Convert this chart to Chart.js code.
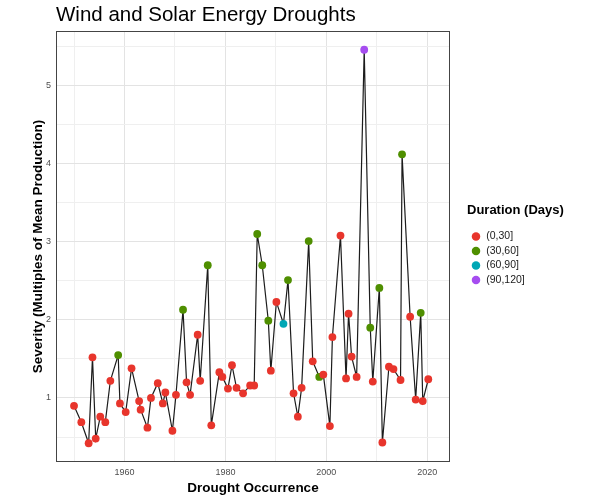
<!DOCTYPE html>
<html>
<head>
<meta charset="utf-8">
<script src="https://cdn.jsdelivr.net/npm/chart.js@4.4.1/dist/chart.umd.min.js"></script>
<style>
  html, body { margin: 0; padding: 0; background: #fff; }
  #wrap { width: 600px; height: 500px; }
</style>
</head>
<body>
<div id="wrap"><canvas id="droughtChart"></canvas></div>
<script>
// drought events
const years = [
    1950.0, 1951.45, 1952.9, 1953.66, 1954.3, 1955.2, 1956.2, 1957.2, 1958.75, 1959.1,
    1960.24, 1961.4, 1962.9, 1963.2, 1964.55, 1965.25, 1966.6, 1967.6, 1968.1, 1969.5,
    1970.2, 1971.6, 1972.3, 1973.0, 1974.5, 1975.0, 1976.5, 1977.2, 1978.8, 1979.4,
    1980.5, 1981.3, 1982.2, 1983.5, 1984.9, 1985.7, 1986.3, 1987.3, 1988.5, 1989.0,
    1990.1, 1991.5, 1992.4, 1993.5, 1994.35, 1995.1, 1996.5, 1997.3, 1998.6, 1999.4,
    2000.7, 2001.2, 2002.8, 2003.9, 2004.4, 2005.0, 2006.0, 2007.5, 2008.7, 2009.2,
    2010.5, 2011.1, 2012.4, 2013.3, 2014.7, 2015.0, 2016.6, 2017.7, 2018.7, 2019.1, 2020.2
];
const severity = [
    0.90, 0.69, 0.42, 1.52, 0.48, 0.76, 0.69, 1.22, 1.55, 0.93,
    0.82, 1.38, 0.96, 0.85, 0.62, 1.00, 1.19, 0.93, 1.07, 0.58,
    1.04, 2.13, 1.20, 1.04, 1.81, 1.22, 2.70, 0.65, 1.33, 1.27,
    1.12, 1.42, 1.13, 1.06, 1.16, 1.16, 3.10, 2.70, 1.99, 1.35,
    2.23, 1.95, 2.51, 1.06, 0.76, 1.13, 3.01, 1.47, 1.27, 1.30,
    0.64, 1.78, 3.08, 1.25, 2.08, 1.53, 1.27, 5.46, 1.90, 1.21,
    2.41, 0.43, 1.40, 1.37, 1.23, 4.12, 2.04, 0.98, 2.09, 0.96, 1.24
];
// index into durationLabels
const durationClass = [
    0, 0, 0, 0, 0, 0, 0, 0, 1, 0,
    0, 0, 0, 0, 0, 0, 0, 0, 0, 0,
    0, 1, 0, 0, 0, 0, 1, 0, 0, 0,
    0, 0, 0, 0, 0, 0, 1, 1, 1, 0,
    0, 2, 1, 0, 0, 0, 1, 0, 1, 0,
    0, 0, 0, 0, 0, 0, 0, 3, 1, 0,
    1, 0, 0, 0, 0, 1, 0, 0, 1, 0, 0
];
const durationLabels = ['(0,30]', '(30,60]', '(60,90]', '(90,120]'];
const xTickValues = [1950, 1960, 1970, 1980, 1990, 2000, 2010, 2020];
const xTickLabels = [1960, 1980, 2000, 2020];
const yTickValues = [0.5, 1, 1.5, 2, 2.5, 3, 3.5, 4, 4.5, 5, 5.5];
const yTickLabels = [1, 2, 3, 4, 5];
const xLimits = [1946.43, 2024.5];
const yLimits = [0.18, 5.70];

const durationColors = ['#e8352c', '#4f8f00', '#00a7b5', '#a64df0'];
const fontFamily = "'Liberation Sans', Arial, sans-serif";

const points = years.map((x, i) => ({ x, y: severity[i] }));

const pointDatasets = durationLabels.map((label, k) => ({
    label,
    data: points.filter((p, i) => durationClass[i] === k),
    showLine: false,
    backgroundColor: durationColors[k],
    borderColor: durationColors[k],
    pointRadius: 3.9,
    pointBorderWidth: 0,
    order: 0
}));

const panelBorder = {
    id: 'panelBorder',
    afterDraw(chart) {
        const { ctx, chartArea } = chart;
        ctx.save();
        ctx.strokeStyle = '#444';
        ctx.lineWidth = 1;
        ctx.strokeRect(chartArea.left + 0.5, chartArea.top + 0.5,
            chartArea.right - chartArea.left - 1, chartArea.bottom - chartArea.top - 1);
        ctx.restore();
    }
};

// the legend box is measured without its title, so widen it
const legendWidth = {
    id: 'legendWidth',
    beforeLayout(chart) {
        const legend = chart.legend;
        if (!legend || legend._widened) {
            return;
        }
        const fit = legend.fit.bind(legend);
        legend.fit = () => {
            fit();
            legend.width = Math.max(legend.width, 120);
        };
        legend._widened = true;
    }
};

const gridStyle = (ctx) => (yTickLabels.includes(ctx.tick.value) || xTickLabels.includes(ctx.tick.value)) ? '#e3e3e3' : '#efefef';

new Chart(document.getElementById('droughtChart'), {
    type: 'scatter',
    data: {
        datasets: [
            ...pointDatasets,
            {
                label: 'line',
                data: points,
                showLine: true,
                borderColor: '#1c1c1c',
                borderWidth: 1.2,
                pointRadius: 0,
                tension: 0,
                order: 5
            }
        ]
    },
    options: {
        responsive: true,
        maintainAspectRatio: false,
        animation: false,
        layout: { padding: { left: 30, right: 13, top: 0, bottom: 0 } },
        scales: {
            x: {
                type: 'linear',
                min: xLimits[0],
                max: xLimits[1],
                afterBuildTicks: (scale) => { scale.ticks = xTickValues.map((value) => ({ value })); },
                afterFit: (scale) => { scale.height = 38; },
                grid: { color: gridStyle, drawTicks: false },
                border: { display: false },
                ticks: {
                    padding: 5,
                    color: '#4d4d4d',
                    font: { family: fontFamily, size: 9 },
                    maxRotation: 0,
                    autoSkip: false,
                    callback: (value) => xTickLabels.includes(value) ? String(value) : ''
                },
                title: {
                    display: true,
                    text: 'Drought Occurrence',
                    color: '#000',
                    font: { family: fontFamily, size: 13.5, weight: 'bold' },
                    padding: { top: 0, bottom: 4 }
                }
            },
            y: {
                type: 'linear',
                min: yLimits[0],
                max: yLimits[1],
                afterBuildTicks: (scale) => { scale.ticks = yTickValues.map((value) => ({ value })); },
                afterFit: (scale) => { scale.width = 26; },
                grid: { color: gridStyle, drawTicks: false },
                border: { display: false },
                ticks: {
                    padding: 5,
                    color: '#4d4d4d',
                    font: { family: fontFamily, size: 9 },
                    autoSkip: false,
                    callback: (value) => yTickLabels.includes(value) ? String(value) : ''
                },
                title: {
                    display: true,
                    text: 'Severity (Multiples of Mean Production)',
                    color: '#000',
                    font: { family: fontFamily, size: 13.5, weight: 'bold' },
                    padding: { top: 0, bottom: 0 }
                }
            },
            gap: {
                axis: 'y',
                position: 'right',
                display: true,
                grid: { display: false },
                border: { display: false },
                ticks: { display: false },
                afterFit: (scale) => { scale.width = 17; }
            }
        },
        plugins: {
            title: {
                display: true,
                text: 'Wind and Solar Energy Droughts',
                align: 'start',
                fullSize: false,
                color: '#000',
                font: { family: fontFamily, size: 20.5, weight: 'normal' },
                padding: { top: 3, bottom: 3.4 }
            },
            legend: {
                position: 'right',
                fullSize: false,
                labels: {
                    usePointStyle: true,
                    pointStyle: 'circle',
                    boxWidth: 10,
                    boxHeight: 6,
                    padding: 4,
                    color: '#1a1a1a',
                    font: { family: fontFamily, size: 10.5 },
                    filter: (item) => item.datasetIndex < durationLabels.length
                },
                title: {
                    display: true,
                    text: 'Duration (Days)',
                    position: 'start',
                    color: '#000',
                    font: { family: fontFamily, size: 13, weight: 'bold' },
                    padding: { top: 0, bottom: 8 }
                }
            },
            tooltip: { enabled: false }
        }
    },
    plugins: [panelBorder, legendWidth]
});
</script>
</body>
</html>
